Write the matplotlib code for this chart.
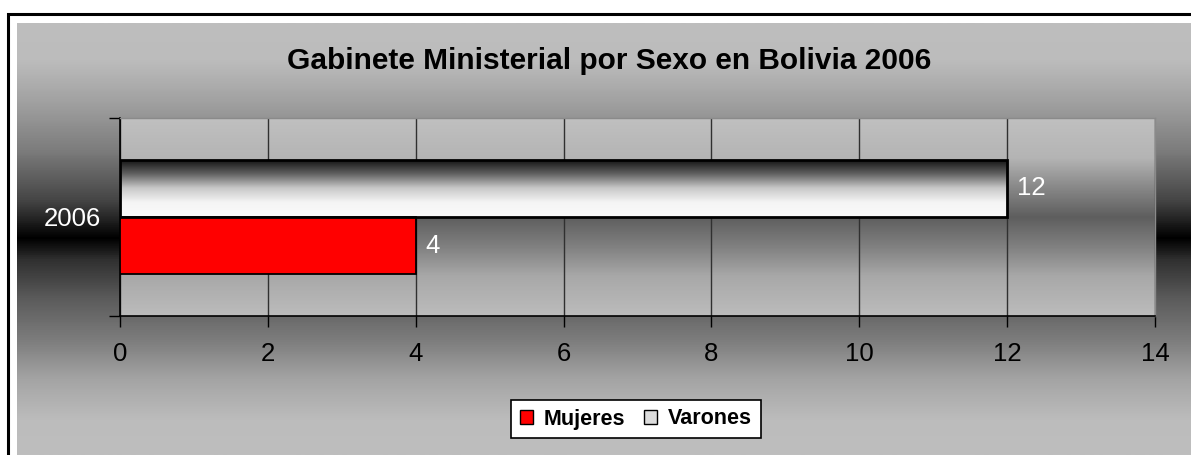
import numpy as np
import matplotlib.pyplot as plt
from matplotlib.colors import LinearSegmentedColormap
from matplotlib.lines import Line2D
from matplotlib.patches import Patch

plt.rcParams['font.family'] = ['Liberation Sans', 'DejaVu Sans']

# data
years = ['2006']
mujeres = [4]
varones = [12]
xticks = [0, 2, 4, 6, 8, 10, 12, 14]
series_names = ['Mujeres', 'Varones']

W, H = 1191, 455
fig = plt.figure(figsize=(W / 100, H / 100), dpi=100)
fig.patch.set_facecolor('white')


def box(x0, y0, x1, y1):
    # pixel box -> figure fraction rect
    return [x0 / W, 1 - y1 / H, (x1 - x0) / W, (y1 - y0) / H]


# outer chart gradient (light - black - light)
bg_cmap = LinearSegmentedColormap.from_list('bg', [
    (0.0, '#bebebe'), (0.086, '#bcbcbc'), (0.178, '#a2a2a2'), (0.294, '#7c7c7c'),
    (0.41, '#454545'), (0.498, '#000000'), (0.549, '#303030'), (0.641, '#5c5c5c'),
    (0.734, '#7c7c7c'), (0.826, '#a4a4a4'), (0.919, '#bcbcbc'), (1.0, '#bebebe')])
bg = fig.add_axes(box(17, 23, W, H), zorder=0)
bg.imshow(np.linspace(0, 1, 500).reshape(-1, 1), cmap=bg_cmap, aspect='auto')
bg.axis('off')

# border line
fig.add_artist(Line2D([8 / W, 8 / W, 1.0], [0, 1 - 14 / H, 1 - 14 / H],
                      color='black', lw=2.2, transform=fig.transFigure,
                      solid_joinstyle='miter'))

# plot area gradient
pa_cmap = LinearSegmentedColormap.from_list('pa', [
    (0.0, '#c0c0c0'), (0.2, '#b4b4b4'), (0.35, '#888888'), (0.5, '#5e5e5e'),
    (0.65, '#808080'), (0.8, '#a8a8a8'), (1.0, '#bcbcbc')])
pa = fig.add_axes(box(120, 118, 1155, 316), zorder=0.5)
pa.imshow(np.linspace(0, 1, 300).reshape(-1, 1), cmap=pa_cmap, aspect='auto')
pa.axis('off')

ax = fig.add_axes(box(120, 118, 1155, 316), zorder=1)
ax.patch.set_alpha(0)

var_cmap = LinearSegmentedColormap.from_list('var', [
    (0.0, '#101010'), (0.25, '#606060'), (0.5, '#c8c8c8'), (0.75, '#f5f5f5'), (1.0, '#fafafa')])

y = np.arange(len(years))
h = 0.288
bm = ax.barh(y - h / 2, mujeres, height=h, color='#ff0000', edgecolor='black', lw=1.3, zorder=3)
bv = ax.barh(y + h / 2, varones, height=h, color='none', edgecolor='black', lw=2.0, zorder=3)
for r in bv:
    im = ax.imshow(np.linspace(0, 1, 200).reshape(-1, 1), cmap=var_cmap, aspect='auto',
                   extent=[r.get_x(), r.get_x() + r.get_width(), r.get_y(), r.get_y() + r.get_height()],
                   zorder=2.5)
    im.set_clip_path(r)

ax.set_xlim(0, 14)
ax.set_ylim(-0.5, 0.5)
ax.set_xticks(xticks)
ax.xaxis.grid(True, color='#303030', lw=1)
ax.set_axisbelow(True)
ax.tick_params(axis='x', direction='out', length=8, width=1, labelsize=18.5, pad=11)
ax.set_yticks([-0.5, 0.5])
ax.set_yticklabels([])
ax.tick_params(axis='y', which='major', length=8, width=1)
ax.set_yticks(y, labels=years, minor=True)
ax.tick_params(axis='y', which='minor', length=0, labelsize=18.5, labelcolor='white', pad=14)

for s in ['left', 'bottom']:
    ax.spines[s].set_color('black')
    ax.spines[s].set_linewidth(1.2)
for s in ['top', 'right']:
    ax.spines[s].set_color('#8a8a8a')
    ax.spines[s].set_linewidth(1)

ax.bar_label(bm, padding=7, color='white', fontsize=18.5)
ax.bar_label(bv, padding=7, color='white', fontsize=18.5)

fig.text(609 / W, 1 - 61 / H, 'Gabinete Ministerial por Sexo en Bolivia 2006',
         ha='center', va='center', fontsize=21.5, fontweight='bold')

handles = [Patch(facecolor='#ff0000', edgecolor='black'),
           Patch(facecolor='#dcdcdc', edgecolor='black')]
leg = fig.legend(handles, series_names, loc='center', bbox_to_anchor=(636 / W, 1 - 419 / H),
                 ncol=2, frameon=True, fancybox=False, edgecolor='black', framealpha=1,
                 prop={'weight': 'bold', 'size': 15.5}, handlelength=0.6, handleheight=0.6,
                 handletextpad=0.5, columnspacing=0.9, borderpad=0.4)
leg.get_frame().set_linewidth(1.2)

fig.savefig('out.png', dpi=100)
